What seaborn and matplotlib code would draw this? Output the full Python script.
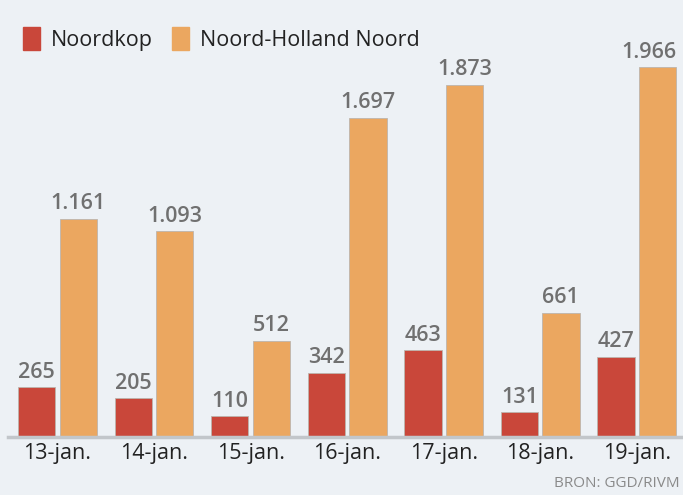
import numpy as np
import pandas as pd
import seaborn as sns
import matplotlib.pyplot as plt
from matplotlib.patches import Patch

# data
dates = ['13-jan.', '14-jan.', '15-jan.', '16-jan.', '17-jan.', '18-jan.', '19-jan.']
noordkop = [265, 205, 110, 342, 463, 131, 427]
nh_noord = [1161, 1093, 512, 1697, 1873, 661, 1966]
regions = ['Noordkop', 'Noord-Holland Noord']

red = '#C9473A'
orange = '#EBA760'
bg = '#EDF1F5'
grey = '#707070'

df = pd.DataFrame({
    'datum': dates * 2,
    'aantal': noordkop + nh_noord,
    'regio': [regions[0]] * len(dates) + [regions[1]] * len(dates),
})

sns.set_style('white')
plt.rcParams['font.family'] = ['Open Sans', 'DejaVu Sans']

fig = plt.figure(figsize=(6.83, 4.95), dpi=100, facecolor=bg)
ax = fig.add_axes([8 / 683, 58 / 495, 675 / 683, 437 / 495])
ax.set_facecolor(bg)

sns.barplot(data=df, x='datum', y='aantal', hue='regio', palette=[red, orange],
            width=0.86, gap=0.1, saturation=1, legend=False, ax=ax,
            edgecolor='#BDB5AD', linewidth=0.6)

for cont in ax.containers:
    labels = [f'{int(v):,}'.replace(',', '.') for v in cont.datavalues]
    anns = ax.bar_label(cont, labels=labels, padding=3, fontsize=15.5,
                        fontweight='semibold', color=grey)

# last label sits flush with the right edge of its bar so it stays inside the figure
last_bar = ax.containers[-1][-1]
anns[-1].xy = (last_bar.get_x() + last_bar.get_width(), last_bar.get_height())
anns[-1].set_ha('right')

ax.set_xlim(-0.513, 6.48)
ax.set_ylim(0, 2322)
ax.set_xlabel('')
ax.set_ylabel('')
ax.set_yticks([])
ax.tick_params(axis='x', length=0, labelsize=15.5, pad=4, labelcolor='#222222')
for s in ['top', 'left', 'right']:
    ax.spines[s].set_visible(False)
ax.spines['bottom'].set_color('#C2C6CA')
ax.spines['bottom'].set_linewidth(2.5)

handles = [Patch(color=red, label=regions[0]), Patch(color=orange, label=regions[1])]
fig.legend(handles=handles, loc='upper left', bbox_to_anchor=(0.005, 0.985), ncol=2,
           frameon=False, fontsize=15.5, handlelength=0.8, handleheight=1.3,
           handletextpad=0.5, columnspacing=0.9, labelcolor='#222222')

fig.text(0.995, 0.008, 'BRON: GGD/RIVM', ha='right', va='bottom', fontsize=11, color='#8A8A8A')

fig.savefig('out.png', dpi=100, facecolor=bg)
